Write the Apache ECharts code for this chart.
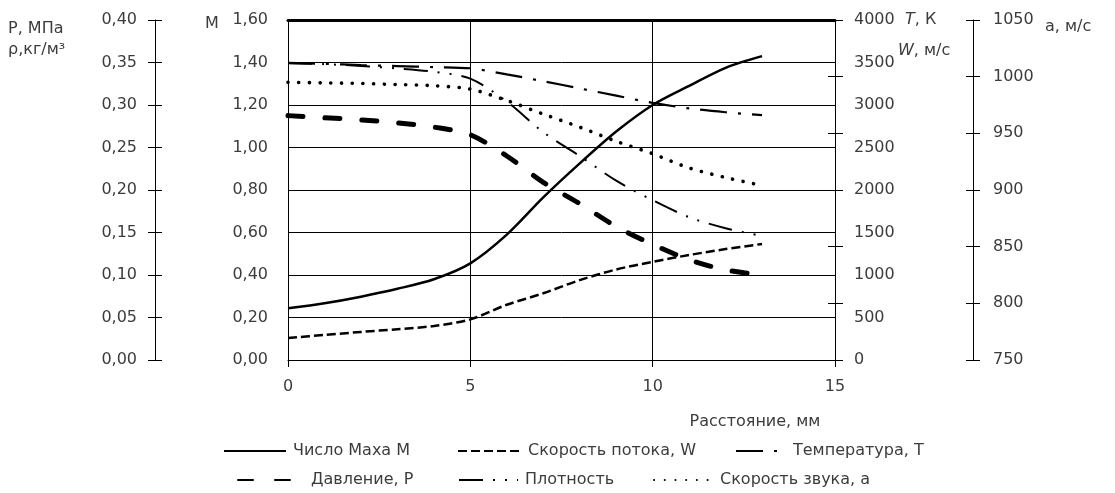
<!DOCTYPE html>
<html>
<head>
<meta charset="utf-8">
<script src="https://cdn.jsdelivr.net/npm/echarts@6/dist/echarts.min.js"></script>
<style>html,body{margin:0;padding:0;background:#fff;}#c{width:1115px;height:493px;}</style>
</head>
<body>
<div id="c"></div>
<script>
// ---- data ----
const distance = [0, 1, 2, 3, 4, 5, 6, 7, 8, 9, 10, 11, 12, 13];          // мм
const machM    = [0.243, 0.267, 0.298, 0.335, 0.38, 0.455, 0.59, 0.765, 0.925, 1.075, 1.20, 1.29, 1.375, 1.43];
const flowW    = [258, 295, 330, 362, 400, 478, 650, 785, 940, 1065, 1155, 1235, 1305, 1365];   // м/с
const tempT    = [3495, 3485, 3470, 3458, 3446, 3432, 3360, 3280, 3195, 3110, 3025, 2960, 2915, 2880]; // K
const pressP   = [0.2875, 0.285, 0.2825, 0.279, 0.274, 0.265, 0.240, 0.209, 0.184, 0.157, 0.136, 0.118, 0.106, 0.100]; // МПа
const densRho  = [0.349, 0.348, 0.346, 0.343, 0.339, 0.331, 0.304, 0.268, 0.240, 0.211, 0.188, 0.168, 0.155, 0.146]; // кг/м3
const soundA   = [995, 994.5, 994, 993, 992, 989, 979, 967, 955.5, 943, 932, 919.5, 911, 904]; // м/с

const seriesNames = ['Число Маха М', 'Скорость потока, W', 'Температура, T', 'Давление, Р', 'Плотность', 'Скорость звука, а'];
const xTicks = [0, 5, 10, 15];

const pairs = v => distance.map((d, i) => [d, v[i]]);
const comma = d => v => v.toFixed(d).replace('.', ',');
const plain = v => String(v);

const TXT = '#3c3c3c';
const FONT = 'DejaVu Sans';
const lbl = {fontFamily: FONT, fontSize: 16, color: TXT};
const black = {color: '#000', width: 1};
const line = {show: true, onZero: false, lineStyle: black};
const noLine = {show: false, onZero: false};

const chart = echarts.init(document.getElementById('c'), null, {renderer: 'canvas'});

const baseY = {type: 'value', splitLine: {show: false}, axisTick: {show: false}, axisLabel: {show: false}, axisLine: noLine};

const option = {
  animation: false,
  backgroundColor: '#fff',
  grid: {left: 288, right: 280, top: 20, bottom: 133, containLabel: false},
  xAxis: [
    {type: 'value', min: 0, max: 15, interval: 5, position: 'bottom',
     axisLine: line,
     axisTick: {show: true, length: 7, lineStyle: black},
     axisLabel: Object.assign({margin: 19, formatter: plain}, lbl),
     splitLine: {show: true, lineStyle: black}},
    {type: 'value', min: 0, max: 15, interval: 5, position: 'top',
     axisLine: {show: true, onZero: false, lineStyle: {color: '#000', width: 3}},
     axisTick: {show: false}, axisLabel: {show: false}, splitLine: {show: false}}
  ],
  yAxis: [
    // 0: Mach number
    {type: 'value', min: 0, max: 1.6, interval: 0.2, position: 'left', offset: 0,
     axisLine: line, axisTick: {show: false},
     axisLabel: Object.assign({margin: 20, formatter: comma(2)}, lbl),
     splitLine: {show: true, lineStyle: black}},
    // 1: pressure / density
    {type: 'value', min: 0, max: 0.4, interval: 0.05, position: 'left', offset: 133,
     axisLine: line,
     axisTick: {show: true, length: 7, lineStyle: black},
     axisLabel: Object.assign({margin: 18, formatter: comma(2)}, lbl),
     splitLine: {show: false}},
    // 2: temperature / flow velocity
    {type: 'value', min: 0, max: 4000, interval: 500, position: 'right', offset: 0,
     axisLine: line, axisTick: {show: false},
     axisLabel: Object.assign({margin: 19, formatter: plain}, lbl),
     splitLine: {show: false}},
    // 3: extra tick marks on the right edge (6 divisions)
    Object.assign({}, baseY, {min: 0, max: 6, interval: 1, position: 'right', offset: 0,
     axisTick: {show: true, length: 8, lineStyle: black}}),
    // 4: speed of sound
    {type: 'value', min: 750, max: 1050, interval: 50, position: 'right', offset: 138,
     axisLine: line,
     axisTick: {show: true, length: 7, lineStyle: black},
     axisLabel: Object.assign({margin: 20, formatter: plain}, lbl),
     splitLine: {show: false}},
    // 5,6,7: inner halves of the crossing tick marks
    Object.assign({}, baseY, {min: 0, max: 0.4, interval: 0.05, position: 'left', offset: 133,
     axisTick: {show: true, inside: true, length: 7, lineStyle: black}}),
    Object.assign({}, baseY, {min: 0, max: 6, interval: 1, position: 'right', offset: 0,
     axisTick: {show: true, inside: true, length: 7, lineStyle: black}}),
    Object.assign({}, baseY, {min: 750, max: 1050, interval: 50, position: 'right', offset: 138,
     axisTick: {show: true, inside: true, length: 7, lineStyle: black}})
  ],
  series: [
    {name: seriesNames[0], type: 'line', yAxisIndex: 0, data: pairs(machM), symbol: 'none', smooth: 0.3,
     lineStyle: {color: '#000', width: 2.5}},
    {name: seriesNames[1], type: 'line', yAxisIndex: 2, data: pairs(flowW), symbol: 'none', smooth: 0.3,
     lineStyle: {color: '#000', width: 2.5, type: [9, 4]}},
    {name: seriesNames[2], type: 'line', yAxisIndex: 2, data: pairs(tempT), symbol: 'none', smooth: 0.3,
     lineStyle: {color: '#000', width: 2.2, type: [27, 11, 3, 11]}},
    {name: seriesNames[3], type: 'line', yAxisIndex: 1, data: pairs(pressP), symbol: 'none', smooth: 0.3,
     lineStyle: {color: '#000', width: 5, type: [15, 22], cap: 'round'}},
    {name: seriesNames[4], type: 'line', yAxisIndex: 1, data: pairs(densRho), symbol: 'none', smooth: 0.3,
     lineStyle: {color: '#000', width: 2, type: [24, 10, 2, 10, 2, 10]}},
    {name: seriesNames[5], type: 'line', yAxisIndex: 4, data: pairs(soundA), symbol: 'none', smooth: 0.3,
     lineStyle: {color: '#000', width: 3.6, type: [0.1, 10.6], cap: 'round'}}
  ],
  legend: [
    [seriesNames[0], 223, 62, 443],
    [seriesNames[1], 457, 63, 443],
    [seriesNames[2], 735, 50, 443],
    [seriesNames[3], 237, 66, 472],
    [seriesNames[4], 458, 59, 472],
    [seriesNames[5], 653, 59, 472]
  ].map(([n, l, w, t]) => ({
    data: [n], left: l, top: t, itemWidth: w, itemHeight: 20, itemGap: 0, padding: 0,
    selectedMode: false,
    itemStyle: {opacity: 0},
    textStyle: {fontFamily: FONT, fontSize: 16, color: TXT, padding: [0, 0, 0, 2]}
  })),
  graphic: [
    {type: 'text', x: 8, y: 29, style: {text: 'P, МПа', font: '16px "DejaVu Sans"', fill: TXT, verticalAlign: 'middle', textVerticalAlign: 'middle'}},
    {type: 'text', x: 8, y: 50, style: {text: 'ρ,кг/м³', font: '16px "DejaVu Sans"', fill: TXT, verticalAlign: 'middle', textVerticalAlign: 'middle'}},
    {type: 'text', x: 205, y: 24, style: {text: 'M', font: '16px "DejaVu Sans"', fill: TXT, verticalAlign: 'middle', textVerticalAlign: 'middle'}},
    {type: 'text', x: 905, y: 20, style: {text: '{i|T}, К', font: '16px "DejaVu Sans"', fill: TXT, verticalAlign: 'middle', textVerticalAlign: 'middle',
      rich: {i: {fontStyle: 'italic', fontFamily: FONT, fontSize: 16, fill: TXT}}}},
    {type: 'text', x: 898, y: 51, style: {text: '{i|W}, м/с', font: '16px "DejaVu Sans"', fill: TXT, verticalAlign: 'middle', textVerticalAlign: 'middle',
      rich: {i: {fontStyle: 'italic', fontFamily: FONT, fontSize: 16, fill: TXT}}}},
    {type: 'text', x: 1045, y: 27, style: {text: 'а, м/с', font: '16px "DejaVu Sans"', fill: TXT, verticalAlign: 'middle', textVerticalAlign: 'middle'}},
    {type: 'text', x: 755, y: 422, style: {text: 'Расстояние, мм', font: '16px "DejaVu Sans"', fill: TXT, align: 'center', textAlign: 'center', verticalAlign: 'middle', textVerticalAlign: 'middle'}}
  ]
};
chart.setOption(option);
</script>
</body>
</html>
